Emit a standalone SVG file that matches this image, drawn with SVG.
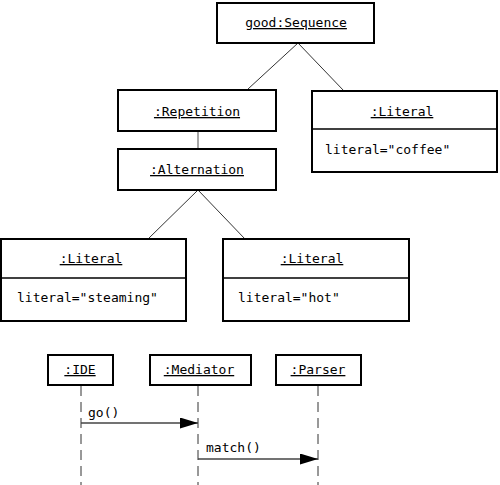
<svg xmlns="http://www.w3.org/2000/svg" width="500" height="485" viewBox="0 0 500 485">
<style>
.box{fill:#fff;stroke:#000;stroke-width:2}
.div{stroke:#000;stroke-width:1.5}
.t{font-family:"DejaVu Sans Mono","Liberation Mono",monospace;font-size:13px;fill:#000}
.n{text-anchor:middle;text-decoration:underline}
.c{stroke:#333;stroke-width:1;fill:none}
.life{stroke:#333;stroke-width:1;stroke-dasharray:10,6;fill:none}
.msg{stroke:#444;stroke-width:1.5;fill:none}
</style>
<defs>
<marker id="ah" viewBox="0 0 18 11" refX="18" refY="5.5" markerWidth="18" markerHeight="11" markerUnits="userSpaceOnUse" orient="auto">
<path d="M0,0 L18,5.5 L0,11 Z" fill="#000"/>
</marker>
</defs>
<g id="connectors">
<line class="c" x1="298" y1="43" x2="248" y2="89"/>
<line class="c" x1="298" y1="43" x2="344" y2="91"/>
<line class="c" x1="198" y1="131" x2="198" y2="149" style="stroke:#888;stroke-width:1.5"/>
<line class="c" x1="198" y1="190" x2="148" y2="239"/>
<line class="c" x1="198" y1="190" x2="245" y2="239"/>
<line class="life" x1="81" y1="386" x2="81" y2="485"/>
<line class="life" x1="198" y1="386" x2="198" y2="485"/>
<line class="life" x1="318" y1="386" x2="318" y2="485"/>
<line class="msg" x1="81" y1="423" x2="198" y2="423" marker-end="url(#ah)"/>
<text class="t" x="88" y="417">go()</text>
<line class="msg" x1="198" y1="459" x2="318" y2="459" marker-end="url(#ah)"/>
<text class="t" x="206" y="452">match()</text>
</g>
<g id="sequence">
<rect class="box" x="217" y="3" width="157" height="40"/>
<text class="t n" x="296" y="27">good:Sequence</text>
</g>
<g id="repetition">
<rect class="box" x="118" y="90" width="158" height="41"/>
<text class="t n" x="197" y="116">:Repetition</text>
</g>
<g id="alternation">
<rect class="box" x="118" y="149" width="158" height="41"/>
<text class="t n" x="197" y="174">:Alternation</text>
</g>
<g id="literal-coffee">
<rect class="box" x="312" y="91" width="185" height="81"/>
<line class="div" x1="312" y1="129" x2="497" y2="129"/>
<text class="t n" x="402" y="116">:Literal</text>
<text class="t" x="325" y="154">literal="coffee"</text>
</g>
<g id="literal-steaming">
<rect class="box" x="1" y="239" width="185" height="82"/>
<line class="div" x1="1" y1="278" x2="186" y2="278"/>
<text class="t n" x="91" y="263">:Literal</text>
<text class="t" x="17" y="302">literal="steaming"</text>
</g>
<g id="literal-hot">
<rect class="box" x="223" y="239" width="186" height="82"/>
<line class="div" x1="223" y1="278" x2="409" y2="278"/>
<text class="t n" x="312" y="263">:Literal</text>
<text class="t" x="238" y="302">literal="hot"</text>
</g>
<g id="ide">
<rect class="box" x="48" y="355" width="65" height="30"/>
<text class="t n" x="80" y="374">:IDE</text>
</g>
<g id="mediator">
<rect class="box" x="150" y="355" width="101" height="30"/>
<text class="t n" x="199" y="374">:Mediator</text>
</g>
<g id="parser">
<rect class="box" x="276" y="355" width="85" height="30"/>
<text class="t n" x="318" y="374">:Parser</text>
</g>
</svg>
